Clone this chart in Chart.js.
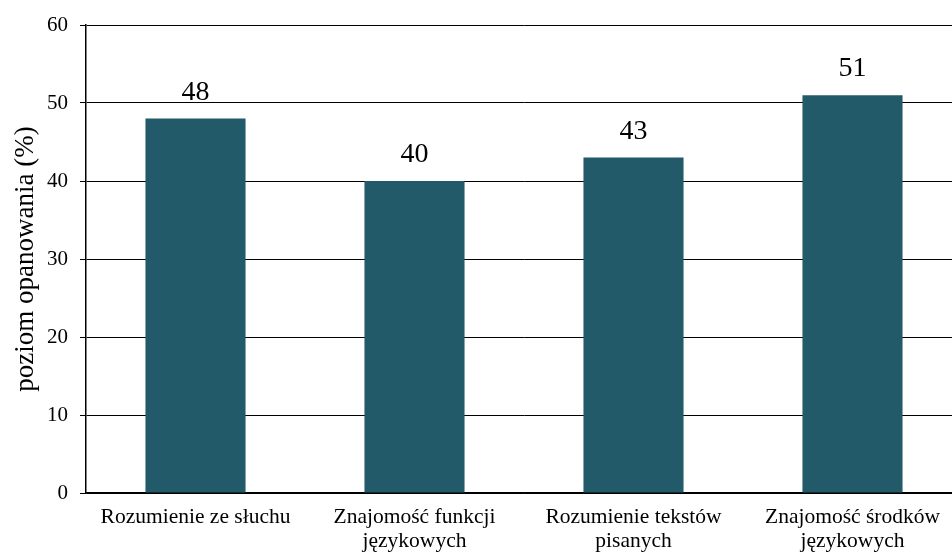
<!DOCTYPE html>
<html lang="pl">
<head>
<meta charset="utf-8">
<script src="https://cdn.jsdelivr.net/npm/chart.js@4/dist/chart.umd.min.js"></script>
<style>
  html, body { margin: 0; padding: 0; background: #fff; overflow: hidden; }
  #wrap { width: 962px; height: 557px; }
</style>
</head>
<body>
<div id="wrap"><canvas id="wykres"></canvas></div>
<script>
// Poziom opanowania umiejetnosci w poszczegolnych obszarach
const obszary = [
  "Rozumienie ze słuchu",
  ["Znajomość funkcji", "językowych"],
  ["Rozumienie tekstów", "pisanych"],
  ["Znajomość środków", "językowych"]
];
const wyniki = [48, 40, 43, 51];
const podzialkaY = [0, 10, 20, 30, 40, 50, 60];

const KOLOR_SLUPKA = "#235a69";
const CZCIONKA = "'Liberation Serif', 'Times New Roman', serif";

// wartosci nad slupkami
const etykietyWartosci = {
  id: "etykietyWartosci",
  afterDatasetsDraw(chart) {
    const { ctx } = chart;
    ctx.save();
    ctx.fillStyle = "#000";
    ctx.font = `28px ${CZCIONKA}`;
    ctx.textAlign = "center";
    ctx.textBaseline = "alphabetic";
    chart.getDatasetMeta(0).data.forEach((bar, i) => {
      ctx.fillText(String(wyniki[i]), bar.x, bar.y - 19);
    });
    ctx.restore();
  }
};

new Chart(document.getElementById("wykres"), {
  type: "bar",
  data: {
    labels: obszary,
    datasets: [{
      data: wyniki,
      backgroundColor: KOLOR_SLUPKA,
      borderWidth: 0,
      categoryPercentage: 1,
      barPercentage: 0.457
    }]
  },
  options: {
    responsive: true,
    maintainAspectRatio: false,
    animation: false,
    layout: { padding: { top: 25, left: 0, right: 0, bottom: 0 } },
    plugins: { legend: { display: false }, tooltip: { enabled: false } },
    scales: {
      x: {
        grid: { display: false, drawTicks: false },
        border: { color: "#000", width: 1.5 },
        ticks: {
          color: "#000",
          font: { family: CZCIONKA, size: 21.5, lineHeight: 1.1 },
          padding: 13,
          maxRotation: 0,
          autoSkip: false
        },
        afterFit(scale) { scale.height = 64; }
      },
      y: {
        min: 0,
        max: 60,
        afterBuildTicks(scale) { scale.ticks = podzialkaY.map(v => ({ value: v })); },
        grid: { color: "#000", lineWidth: 1, tickLength: 6, tickColor: "#000" },
        border: { color: "#000", width: 1.5 },
        ticks: {
          color: "#000",
          font: { family: CZCIONKA, size: 21 },
          padding: 12
        },
        title: {
          display: true,
          text: "poziom opanowania (%)",
          color: "#000",
          font: { family: CZCIONKA, size: 27 },
          padding: { top: 10, bottom: 0 }
        },
        afterFit(scale) { scale.width = 86; }
      }
    }
  },
  plugins: [etykietyWartosci]
});
</script>
</body>
</html>
